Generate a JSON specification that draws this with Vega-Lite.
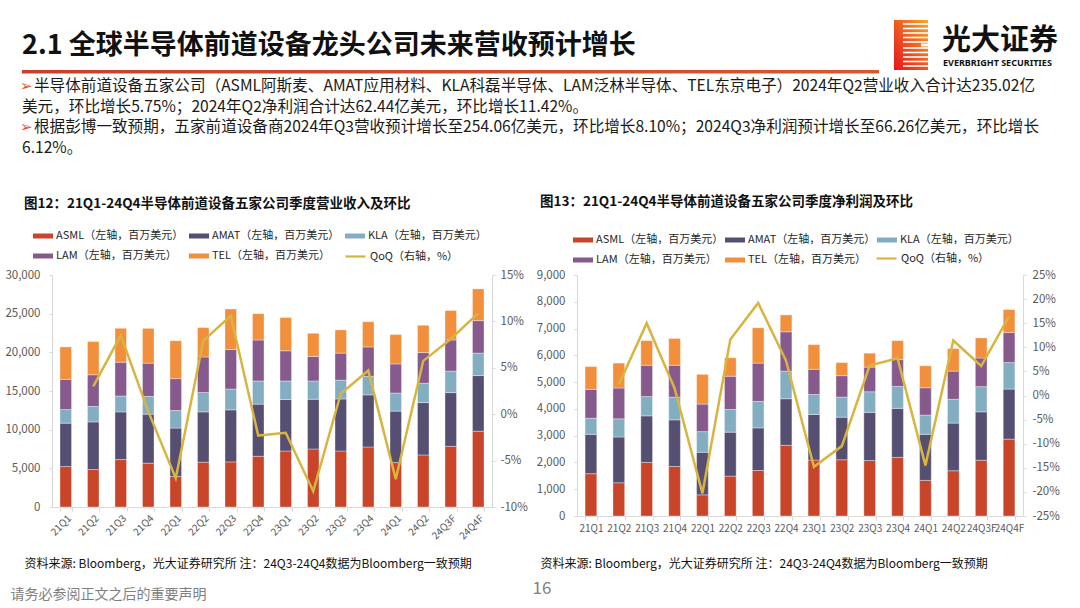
{
  "$schema": "https://vega.github.io/schema/vega-lite/v6.json",
  "padding": 0,
  "background": "#ffffff",
  "bounds": "flush",
  "spacing": 54,
  "config": {
    "view": {"stroke": null},
    "font": "Noto Sans CJK SC",
    "text": {"font": "Noto Sans CJK SC"}
  },
  "datasets": {
    "rev": [
      {"q": "21Q1", "ASML": 5230, "AMAT": 5610, "KLA": 1760, "LAM": 3900, "TEL": 4200, "QoQ": null},
      {"q": "21Q2", "ASML": 4840, "AMAT": 6160, "KLA": 2000, "LAM": 4100, "TEL": 4300, "QoQ": 3.0},
      {"q": "21Q3", "ASML": 6130, "AMAT": 6170, "KLA": 2060, "LAM": 4370, "TEL": 4370, "QoQ": 8.5},
      {"q": "21Q4", "ASML": 5660, "AMAT": 6340, "KLA": 2300, "LAM": 4300, "TEL": 4500, "QoQ": 0.3},
      {"q": "22Q1", "ASML": 3940, "AMAT": 6260, "KLA": 2270, "LAM": 4130, "TEL": 4900, "QoQ": -6.9},
      {"q": "22Q2", "ASML": 5790, "AMAT": 6510, "KLA": 2500, "LAM": 4600, "TEL": 3800, "QoQ": 7.9},
      {"q": "22Q3", "ASML": 5830, "AMAT": 6730, "KLA": 2700, "LAM": 5100, "TEL": 5240, "QoQ": 10.6},
      {"q": "22Q4", "ASML": 6560, "AMAT": 6740, "KLA": 3000, "LAM": 5300, "TEL": 3400, "QoQ": -2.3},
      {"q": "23Q1", "ASML": 7240, "AMAT": 6660, "KLA": 2400, "LAM": 3900, "TEL": 4300, "QoQ": -2.0},
      {"q": "23Q2", "ASML": 7500, "AMAT": 6430, "KLA": 2370, "LAM": 3160, "TEL": 3000, "QoQ": -8.3},
      {"q": "23Q3", "ASML": 7240, "AMAT": 6730, "KLA": 2430, "LAM": 3500, "TEL": 3000, "QoQ": 2.2},
      {"q": "23Q4", "ASML": 7760, "AMAT": 6740, "KLA": 2400, "LAM": 3800, "TEL": 3260, "QoQ": 4.7},
      {"q": "24Q1", "ASML": 5740, "AMAT": 6660, "KLA": 2340, "LAM": 3760, "TEL": 3800, "QoQ": -7.0},
      {"q": "24Q2", "ASML": 6730, "AMAT": 6770, "KLA": 2500, "LAM": 3970, "TEL": 3530, "QoQ": 5.75},
      {"q": "24Q3F", "ASML": 7840, "AMAT": 6950, "KLA": 2780, "LAM": 4030, "TEL": 3810, "QoQ": 8.1},
      {"q": "24Q4F", "ASML": 9800, "AMAT": 7200, "KLA": 2900, "LAM": 4200, "TEL": 4100, "QoQ": 10.9}
    ],
    "ni": [
      {"q": "21Q1", "ASML": 1580, "AMAT": 1470, "KLA": 600, "LAM": 1080, "TEL": 850, "QoQ": null},
      {"q": "21Q2", "ASML": 1240, "AMAT": 1710, "KLA": 680, "LAM": 1150, "TEL": 930, "QoQ": 2.3},
      {"q": "21Q3", "ASML": 2000, "AMAT": 1740, "KLA": 720, "LAM": 1170, "TEL": 920, "QoQ": 15.0},
      {"q": "21Q4", "ASML": 1850, "AMAT": 1740, "KLA": 850, "LAM": 1190, "TEL": 1000, "QoQ": 1.5},
      {"q": "22Q1", "ASML": 790, "AMAT": 1590, "KLA": 770, "LAM": 1030, "TEL": 1110, "QoQ": -20.3},
      {"q": "22Q2", "ASML": 1490, "AMAT": 1640, "KLA": 850, "LAM": 1240, "TEL": 690, "QoQ": 11.6},
      {"q": "22Q3", "ASML": 1700, "AMAT": 1590, "KLA": 990, "LAM": 1430, "TEL": 1320, "QoQ": 19.2},
      {"q": "22Q4", "ASML": 2640, "AMAT": 1740, "KLA": 1030, "LAM": 1470, "TEL": 630, "QoQ": 7.2},
      {"q": "23Q1", "ASML": 2090, "AMAT": 1700, "KLA": 750, "LAM": 940, "TEL": 920, "QoQ": -14.8},
      {"q": "23Q2", "ASML": 2100, "AMAT": 1590, "KLA": 750, "LAM": 800, "TEL": 490, "QoQ": -10.5},
      {"q": "23Q3", "ASML": 2070, "AMAT": 1800, "KLA": 770, "LAM": 920, "TEL": 520, "QoQ": 6.2},
      {"q": "23Q4", "ASML": 2190, "AMAT": 1830, "KLA": 820, "LAM": 1000, "TEL": 710, "QoQ": 7.7},
      {"q": "24Q1", "ASML": 1330, "AMAT": 1720, "KLA": 720, "LAM": 1020, "TEL": 820, "QoQ": -14.5},
      {"q": "24Q2", "ASML": 1690, "AMAT": 1780, "KLA": 890, "LAM": 1050, "TEL": 840, "QoQ": 11.42},
      {"q": "24Q3F", "ASML": 2080, "AMAT": 1810, "KLA": 940, "LAM": 1070, "TEL": 750, "QoQ": 6.12},
      {"q": "24Q4F", "ASML": 2870, "AMAT": 1870, "KLA": 990, "LAM": 1120, "TEL": 860, "QoQ": 16.4}
    ]
  },
  "vconcat": [
    {
      "width": 1080,
      "height": 221,
      "data": {"values": [{}]},
      "encoding": {
        "x": {"type": "quantitative", "scale": {"domain": [0, 1080], "nice": false, "zero": false}, "axis": null},
        "y": {"type": "quantitative", "scale": {"domain": [0, 221], "nice": false, "zero": false, "reverse": true}, "axis": null}
      },
      "layer": [
        {"mark": {"type": "text", "align": "left", "baseline": "middle", "fontSize": 27, "fontWeight": "bold", "color": "#111111", "text": "2.1 全球半导体前道设备龙头公司未来营收预计增长"},
         "encoding": {"x": {"datum": 22}, "y": {"datum": 46}}},
        {"mark": {"type": "rect", "color": {"gradient": "linear", "x1": 0, "x2": 1, "y1": 0, "y2": 0, "stops": [{"offset": 0, "color": "#C9402A"}, {"offset": 1, "color": "#D9562E"}]}},
         "encoding": {"x": {"datum": 22}, "x2": {"datum": 879}, "y": {"datum": 70}, "y2": {"datum": 73.5}}},
        {"mark": {"type": "text", "align": "left", "baseline": "middle", "fontSize": 15, "font": "DejaVu Sans", "color": "#E0552B", "text": "➢"},
         "encoding": {"x": {"datum": 20}, "y": {"datum": 86}}},
        {"mark": {"type": "text", "align": "left", "baseline": "middle", "fontSize": 15, "font": "DejaVu Sans", "color": "#E0552B", "text": "➢"},
         "encoding": {"x": {"datum": 20}, "y": {"datum": 127}}},
        {"mark": {"type": "text", "align": "left", "baseline": "middle", "fontSize": 15.6, "color": "#1a1a1a", "text": "半导体前道设备五家公司（ASML阿斯麦、AMAT应用材料、KLA科磊半导体、LAM泛林半导体、TEL东京电子）2024年Q2营业收入合计达235.02亿"},
         "encoding": {"x": {"datum": 34}, "y": {"datum": 86}}},
        {"mark": {"type": "text", "align": "left", "baseline": "middle", "fontSize": 15.6, "color": "#1a1a1a", "text": "美元，环比增长5.75%；2024年Q2净利润合计达62.44亿美元，环比增长11.42%。"},
         "encoding": {"x": {"datum": 22}, "y": {"datum": 106.5}}},
        {"mark": {"type": "text", "align": "left", "baseline": "middle", "fontSize": 15.6, "color": "#1a1a1a", "text": "根据彭博一致预期，五家前道设备商2024年Q3营收预计增长至254.06亿美元，环比增长8.10%；2024Q3净利润预计增长至66.26亿美元，环比增长"},
         "encoding": {"x": {"datum": 34}, "y": {"datum": 127}}},
        {"mark": {"type": "text", "align": "left", "baseline": "middle", "fontSize": 15.6, "color": "#1a1a1a", "text": "6.12%。"},
         "encoding": {"x": {"datum": 22}, "y": {"datum": 147.5}}},
        {"mark": {"type": "rect", "color": {"gradient": "linear", "x1": 1, "x2": 0, "y1": 0, "y2": 1, "stops": [{"offset": 0, "color": "#F7A928"}, {"offset": 0.5, "color": "#EE5A22"}, {"offset": 1, "color": "#E3141E"}]}},
         "encoding": {"x": {"datum": 894}, "x2": {"datum": 928}, "y": {"datum": 20}, "y2": {"datum": 70}}},
        {"mark": {"type": "rule", "color": "#ffffff", "strokeWidth": 1.6},
         "encoding": {"x": {"datum": 903}, "x2": {"datum": 929}, "y": {"datum": 24}}},
        {"mark": {"type": "rule", "color": "#ffffff", "strokeWidth": 1.6},
         "encoding": {"x": {"datum": 903}, "x2": {"datum": 929}, "y": {"datum": 28.5}}},
        {"mark": {"type": "rule", "color": "#ffffff", "strokeWidth": 1.6},
         "encoding": {"x": {"datum": 903}, "x2": {"datum": 929}, "y": {"datum": 33}}},
        {"mark": {"type": "rule", "color": "#ffffff", "strokeWidth": 1.6},
         "encoding": {"x": {"datum": 903}, "x2": {"datum": 929}, "y": {"datum": 37.5}}},
        {"mark": {"type": "rule", "color": "#ffffff", "strokeWidth": 1.6},
         "encoding": {"x": {"datum": 903}, "x2": {"datum": 929}, "y": {"datum": 42}}},
        {"mark": {"type": "rule", "color": "#ffffff", "strokeWidth": 1.6},
         "encoding": {"x": {"datum": 903}, "x2": {"datum": 929}, "y": {"datum": 48}}},
        {"mark": {"type": "rule", "color": "#ffffff", "strokeWidth": 1.6},
         "encoding": {"x": {"datum": 903}, "x2": {"datum": 929}, "y": {"datum": 52.5}}},
        {"mark": {"type": "rule", "color": "#ffffff", "strokeWidth": 1.6},
         "encoding": {"x": {"datum": 903}, "x2": {"datum": 929}, "y": {"datum": 57}}},
        {"mark": {"type": "rule", "color": "#ffffff", "strokeWidth": 1.6},
         "encoding": {"x": {"datum": 903}, "x2": {"datum": 929}, "y": {"datum": 61.5}}},
        {"mark": {"type": "rule", "color": "#ffffff", "strokeWidth": 1.6},
         "encoding": {"x": {"datum": 903}, "x2": {"datum": 929}, "y": {"datum": 66}}},
        {"mark": {"type": "rect", "color": "#ffffff"},
         "encoding": {"x": {"datum": 921}, "x2": {"datum": 929}, "y": {"datum": 43.5}, "y2": {"datum": 46.5}}},
        {"mark": {"type": "text", "align": "left", "baseline": "middle", "fontSize": 29, "fontWeight": "bold", "color": "#111111", "text": "光大证券"},
         "encoding": {"x": {"datum": 942}, "y": {"datum": 41}}},
        {"mark": {"type": "text", "align": "left", "baseline": "middle", "fontSize": 9, "fontWeight": "bold", "font": "Noto Sans", "color": "#111111", "text": "EVERBRIGHT SECURITIES"},
         "encoding": {"x": {"datum": 943}, "y": {"datum": 63}}}
      ]
    },
    {
      "hconcat": [
        {"width": 1, "height": 241, "data": {"values": []}, "mark": "point"},
        {
          "hconcat": [
            {
              "width": 440,
              "height": 232,
              "data": {"name": "rev"},
              "title": {"text": "图12：21Q1-24Q4半导体前道设备五家公司季度营业收入及环比", "anchor": "start", "frame": "group", "dx": -28, "offset": 9, "baseline": "middle", "fontSize": 13.5, "fontWeight": "bold", "color": "#111111"},
              "layer": [
                {
                  "transform": [
                    {"fold": ["ASML", "AMAT", "KLA", "LAM", "TEL"], "as": ["co", "v"]},
                    {"window": [{"op": "row_number", "as": "rk"}], "groupby": ["q"]}
                  ],
                  "mark": {"type": "bar", "stroke": "#ffffff", "strokeWidth": 0.5, "strokeOpacity": 0.7},
                  "encoding": {
                    "x": {"field": "q", "type": "nominal", "sort": null,
                          "scale": {"paddingInner": 0.58, "paddingOuter": 0.29},
                          "axis": {"labelAngle": -45, "labelFontSize": 10, "labelColor": "#595959", "domainColor": "#d9d9d9", "tickColor": "#d9d9d9", "tickSize": 4, "tickBand": "extent", "labelPadding": 2,
                                   "title": "资料来源: Bloomberg，光大证券研究所 注：24Q3-24Q4数据为Bloomberg一致预期", "titleFontSize": 12, "titleFontWeight": "normal", "titleColor": "#111111", "titleAnchor": "start", "titleAlign": "left", "titleBaseline": "middle", "titleX": -28, "titleY": 56}},
                    "y": {"field": "v", "type": "quantitative", "stack": "zero",
                          "scale": {"domain": [0, 30000], "nice": false},
                          "axis": {"values": [0, 5000, 10000, 15000, 20000, 25000, 30000], "labelExpr": "format(datum.value, ',')", "labelFontSize": 11.5, "labelColor": "#595959", "domainColor": "#d9d9d9", "tickColor": "#d9d9d9", "tickSize": 3, "labelPadding": 9, "grid": false,
                                   "title": "请务必参阅正文之后的重要声明", "titleAngle": 0, "titleFontSize": 14, "titleFontWeight": "normal", "titleColor": "#808080", "titleAnchor": "start", "titleAlign": "left", "titleBaseline": "middle", "titleX": -42, "titleY": 319}},
                    "order": {"field": "rk", "type": "quantitative", "sort": "ascending"},
                    "color": {"field": "co", "type": "nominal", "sort": ["ASML", "AMAT", "KLA", "LAM", "TEL"],
                              "scale": {"domain": ["ASML", "AMAT", "KLA", "LAM", "TEL"], "range": ["#C9452A", "#574F72", "#83AEC2", "#865A8C", "#F18F3D"]},
                              "legend": {"orient": "none", "legendX": -19, "legendY": -49, "direction": "horizontal", "columns": 3, "title": null,
                                         "symbolType": "M-1,-0.25H1V0.25H-1Z", "symbolSize": 400, "symbolStrokeWidth": 0, "labelFontSize": 11, "labelColor": "#262626",
                                         "columnPadding": 5, "rowPadding": 5, "labelLimit": 300, "labelOffset": 3,
                                         "labelExpr": "datum.label + '（左轴，百万美元）'"}}
                  }
                },
                {
                  "mark": {"type": "line", "strokeWidth": 2.5},
                  "encoding": {
                    "x": {"field": "q", "type": "nominal", "sort": null},
                    "y": {"field": "QoQ", "type": "quantitative",
                          "scale": {"domain": [-10, 15], "nice": false},
                          "axis": {"orient": "right", "values": [-10, -5, 0, 5, 10, 15], "labelExpr": "datum.value + '%'", "labelFontSize": 11.5, "labelColor": "#595959", "domainColor": "#d9d9d9", "tickColor": "#d9d9d9", "tickSize": 3, "labelPadding": 5, "grid": false,
                                   "title": "16", "titleAngle": 0, "titleFontSize": 17, "titleFontWeight": "normal", "titleColor": "#808080", "titleAnchor": "start", "titleAlign": "left", "titleBaseline": "middle", "titleX": 40, "titleY": 313}},
                    "stroke": {"datum": "QoQ", "scale": {"domain": ["QoQ"], "range": ["#D8B440"]},
                               "legend": {"orient": "none", "legendX": 292, "legendY": -30, "title": null, "symbolType": "stroke", "symbolSize": 400, "symbolStrokeWidth": 2.2,
                                          "labelFontSize": 11, "labelColor": "#262626", "labelOffset": 3, "labelExpr": "'QoQ（右轴，%）'"}}
                  }
                }
              ],
              "resolve": {"scale": {"y": "independent"}}
            },
            {
              "width": 446,
              "height": 241,
              "data": {"name": "ni"},
              "title": {"text": "图13：21Q1-24Q4半导体前道设备五家公司季度净利润及环比", "anchor": "start", "frame": "group", "dx": -37, "offset": 15, "baseline": "middle", "fontSize": 13.5, "fontWeight": "bold", "color": "#111111"},
              "layer": [
                {
                  "transform": [
                    {"fold": ["ASML", "AMAT", "KLA", "LAM", "TEL"], "as": ["co", "v"]},
                    {"window": [{"op": "row_number", "as": "rk"}], "groupby": ["q"]}
                  ],
                  "mark": {"type": "bar", "stroke": "#ffffff", "strokeWidth": 0.5, "strokeOpacity": 0.7},
                  "encoding": {
                    "x": {"field": "q", "type": "nominal", "sort": null,
                          "scale": {"paddingInner": 0.58, "paddingOuter": 0.29},
                          "axis": {"labelAngle": 0, "labelFontSize": 10, "labelColor": "#595959", "domainColor": "#d9d9d9", "tickColor": "#d9d9d9", "tickSize": 4, "tickBand": "extent", "labelPadding": 3, "labelOverlap": false,
                                   "title": "资料来源: Bloomberg，光大证券研究所 注：24Q3-24Q4数据为Bloomberg一致预期", "titleFontSize": 12, "titleFontWeight": "normal", "titleColor": "#111111", "titleAnchor": "start", "titleAlign": "left", "titleBaseline": "middle", "titleX": -37, "titleY": 47}},
                    "y": {"field": "v", "type": "quantitative", "stack": "zero",
                          "scale": {"domain": [0, 9000], "nice": false},
                          "axis": {"values": [0, 1000, 2000, 3000, 4000, 5000, 6000, 7000, 8000, 9000], "labelExpr": "format(datum.value, ',')", "labelFontSize": 11.5, "labelColor": "#595959", "domainColor": "#d9d9d9", "tickColor": "#d9d9d9", "tickSize": 3, "labelPadding": 9, "grid": false, "title": null}},
                    "order": {"field": "rk", "type": "quantitative", "sort": "ascending"},
                    "color": {"field": "co", "type": "nominal", "sort": ["ASML", "AMAT", "KLA", "LAM", "TEL"],
                              "scale": {"domain": ["ASML", "AMAT", "KLA", "LAM", "TEL"], "range": ["#C9452A", "#574F72", "#83AEC2", "#865A8C", "#F18F3D"]},
                              "legend": {"orient": "none", "legendX": -4, "legendY": -45, "direction": "horizontal", "columns": 3, "title": null,
                                         "symbolType": "M-1,-0.25H1V0.25H-1Z", "symbolSize": 400, "symbolStrokeWidth": 0, "labelFontSize": 11, "labelColor": "#262626",
                                         "columnPadding": 1, "rowPadding": 5, "labelLimit": 300, "labelOffset": 3,
                                         "labelExpr": "datum.label + '（左轴，百万美元）'"}}
                  }
                },
                {
                  "mark": {"type": "line", "strokeWidth": 2.5},
                  "encoding": {
                    "x": {"field": "q", "type": "nominal", "sort": null},
                    "y": {"field": "QoQ", "type": "quantitative",
                          "scale": {"domain": [-25, 25], "nice": false},
                          "axis": {"orient": "right", "values": [-25, -20, -15, -10, -5, 0, 5, 10, 15, 20, 25], "labelExpr": "datum.value + '%'", "labelFontSize": 11.5, "labelColor": "#595959", "domainColor": "#d9d9d9", "tickColor": "#d9d9d9", "tickSize": 3, "labelPadding": 6, "grid": false, "title": null}},
                    "stroke": {"datum": "QoQ", "scale": {"domain": ["QoQ"], "range": ["#D8B440"]},
                               "legend": {"orient": "none", "legendX": 298, "legendY": -28, "title": null, "symbolType": "stroke", "symbolSize": 400, "symbolStrokeWidth": 2.2,
                                          "labelFontSize": 11, "labelColor": "#262626", "labelOffset": 3, "labelExpr": "'QoQ（右轴，%）'"}}
                  }
                }
              ],
              "resolve": {"scale": {"y": "independent"}}
            }
          ],
          "spacing": 85,
          "bounds": "flush",
          "resolve": {"scale": {"color": "independent", "stroke": "independent"}, "legend": {"color": "independent", "stroke": "independent"}}
        }
      ],
      "spacing": 51,
      "bounds": "flush"
    }
  ]
}
